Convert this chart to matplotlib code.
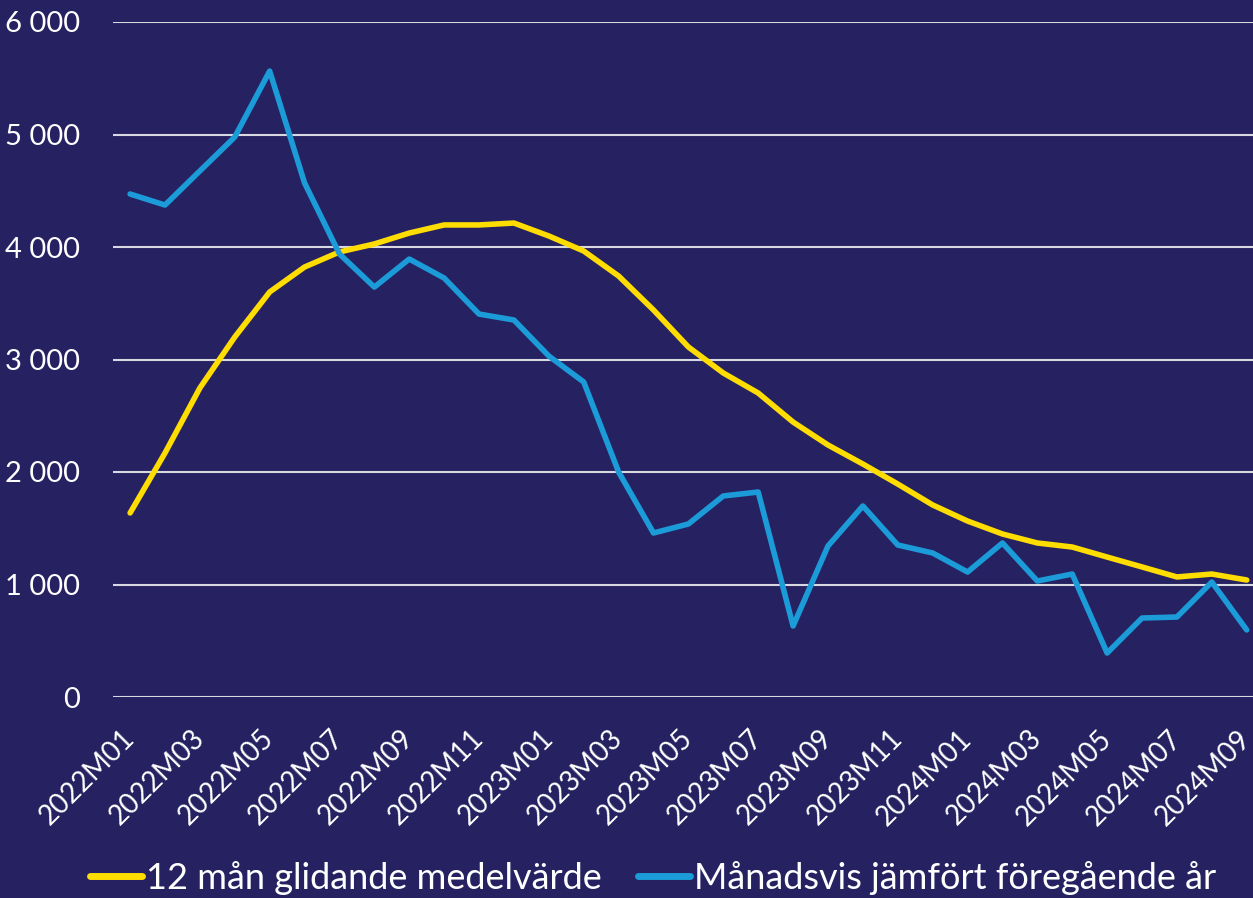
import matplotlib
matplotlib.use("Agg")
import matplotlib.pyplot as plt
import matplotlib.transforms as mtransforms
from matplotlib.ticker import FuncFormatter

months = [f"{y}M{m:02d}" for y in (2022, 2023, 2024) for m in range(1, 13)][:33]

moving_avg = [1636, 2169, 2747, 3200, 3600, 3822, 3956, 4027, 4124, 4196, 4196, 4213,
              4098, 3964, 3742, 3440, 3111, 2880, 2702, 2444, 2240, 2071, 1893, 1707,
              1564, 1449, 1369, 1333, 1244, 1156, 1067, 1093, 1040]
monthly = [4471, 4373, 4676, 4978, 5564, 4569, 3938, 3644, 3893, 3724, 3404, 3351,
           3031, 2800, 2000, 1458, 1538, 1787, 1822, 631, 1342, 1698, 1351, 1280,
           1111, 1369, 1031, 1093, 391, 702, 711, 1022, 596]
series_names = ["12 mån glidande medelvärde", "Månadsvis jämfört föregående år"]

BG = "#262262"
YELLOW = "#ffdd00"
BLUE = "#1b9cd8"

plt.rcParams['font.family'] = ['Lato', 'DejaVu Sans']

fig = plt.figure(figsize=(12.53, 8.98), dpi=100, facecolor=BG)
ax = fig.add_axes([113/1253, 1 - 697/898, 1 - 113/1253, (697-22)/898], facecolor=BG)

x = list(range(len(months)))
ax.plot(x, moving_avg, color=YELLOW, lw=4, solid_joinstyle='round', solid_capstyle='round', label=series_names[0], zorder=3)
ax.plot(x, monthly, color=BLUE, lw=4, solid_joinstyle='round', solid_capstyle='round', label=series_names[1], zorder=3)

ax.set_ylim(0, 6000)
ax.set_xlim(-0.49, 32.18)
ax.set_yticks(range(0, 6001, 1000))
ax.yaxis.set_major_formatter(FuncFormatter(lambda v, p: f"{int(v):,}".replace(",", " ")))
ax.grid(axis='y', color='#d8d8e0', lw=1.5)
ax.set_axisbelow(True)
for s in ax.spines.values():
    s.set_visible(False)

ax.set_xticks(x[::2])
ax.set_xticklabels(months[::2], rotation=45, ha='right', rotation_mode='anchor')
ax.tick_params(axis='x', length=0, pad=16, labelsize=20, colors='white')
ax.tick_params(axis='y', length=0, pad=24, labelsize=21, colors='white')
offset = mtransforms.ScaledTranslation(-9/100, -6/100, fig.dpi_scale_trans)
for lbl in ax.get_xticklabels():
    lbl.set_transform(lbl.get_transform() + offset)

leg = fig.legend(loc='center', bbox_to_anchor=(0.521, 1 - 878/898), ncol=2, frameon=False,
                 fontsize=26, labelcolor='white', handlelength=1.45, handletextpad=0.1,
                 columnspacing=1.0)
for line in leg.get_lines():
    line.set_linewidth(5)

fig.savefig("out.png", dpi=100, facecolor=BG)
